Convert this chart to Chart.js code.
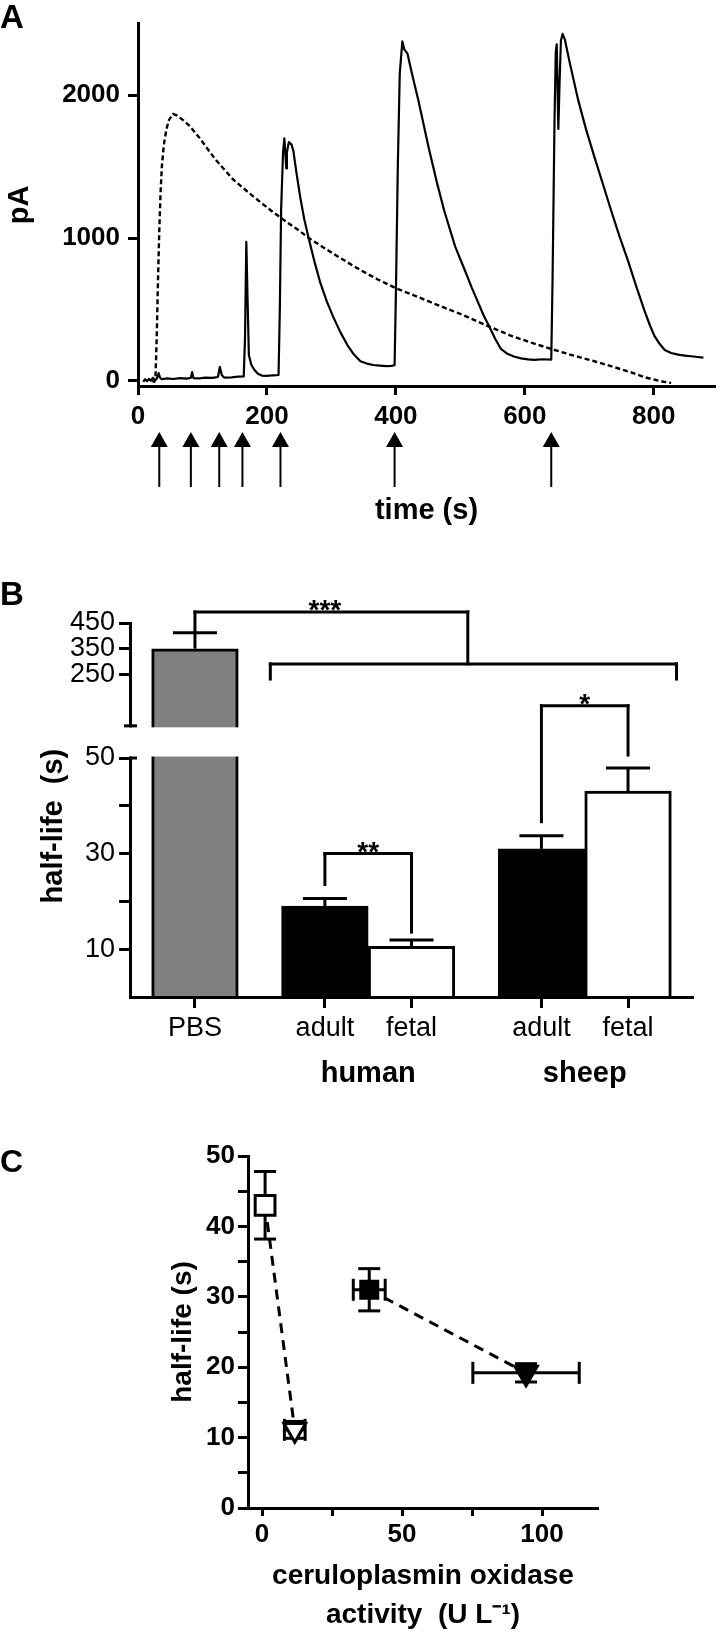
<!DOCTYPE html>
<html>
<head>
<meta charset="utf-8">
<script src="https://cdn.jsdelivr.net/npm/chart.js@4.4.1/dist/chart.umd.min.js"></script>
<style>
  html, body { margin: 0; padding: 0; background: #fff; }
  #fig { position: relative; width: 720px; height: 1634px; }
  canvas { position: absolute; left: 0; }
  #chartA { top: 0; }
  #chartB { top: 575px; }
  #chartC { top: 1100px; }
</style>
</head>
<body>
<div id="fig">
  <canvas id="chartA" width="720" height="540"></canvas>
  <canvas id="chartB" width="720" height="525"></canvas>
  <canvas id="chartC" width="720" height="534"></canvas>
</div>
<script>
// ---- panel A: current traces, [time (s), current (pA)]
const solidTrace = [
  [8, -5], [11, 12], [14, -2], [17, 15], [20, 2], [23, 22], [26, 8], [29, 15], [32, 55], [34, 25],
  [37, 12], [45, 18], [55, 14], [65, 20], [75, 17], [82, 22], [84, 62], [86, 20], [95, 18], [105, 24],
  [115, 22], [124, 28], [127, 98], [130, 40], [134, 24], [145, 26], [155, 30], [164, 32], [166, 300],
  [168, 974], [170, 560], [172, 180], [176, 110], [181, 75], [186, 50], [192, 38], [200, 36], [210, 40],
  [218, 42], [220, 500], [222, 1200], [225, 1600], [227, 1697], [229, 1560], [230, 1487], [231, 1600],
  [234, 1671], [238, 1655], [241, 1610], [246, 1450], [252, 1276], [258, 1130], [265, 993], [274, 830],
  [283, 684], [293, 555], [303, 447], [314, 340], [325, 250], [335, 185], [345, 138], [355, 122],
  [365, 112], [375, 108], [385, 104], [393, 106], [398, 110], [400, 600], [403, 1500], [406, 2150],
  [410, 2375], [413, 2320], [418, 2290], [425, 2150], [435, 1960], [451, 1630], [463, 1400], [475, 1191],
  [492, 940], [509, 752], [518, 650], [527, 555], [536, 460], [545, 380], [554, 295], [563, 224],
  [573, 190], [583, 171], [594, 158], [605, 151], [615, 148], [628, 152], [641, 150], [643, 700],
  [646, 1800], [648, 2300], [649.5, 2355], [651, 2000], [652, 1763], [654, 2100], [656, 2380],
  [658.6, 2428], [662, 2390], [670, 2220], [683, 1961], [695, 1760], [708, 1566], [721, 1380],
  [734, 1191], [747, 1010], [760, 842], [773, 660], [786, 487], [794, 390], [801, 316], [809, 260],
  [817, 217], [827, 196], [838, 184], [848, 178], [858, 173], [868, 168], [877, 164]
];
const dashedTrace = [
  [22, 0], [25, -5], [27, 8], [29, 300], [31, 700], [33, 1050], [35, 1320], [37, 1500], [40, 1650],
  [44, 1760], [48, 1825], [54, 1868], [60, 1858], [70, 1825], [80, 1785], [96, 1697], [120, 1550],
  [148, 1408], [175, 1305], [201, 1211], [225, 1130], [252, 1045], [265, 1000], [284, 945], [303, 890],
  [325, 830], [345, 776], [372, 710], [402, 645], [430, 596], [460, 540], [501, 467], [540, 390],
  [579, 316], [610, 268], [641, 224], [670, 185], [708, 138], [740, 95], [765, 60], [786, 26],
  [805, 5], [815, -5], [827, -13]
];
const injectionTimes = [33, 82, 126, 162, 221, 398, 641];
const xTicksA = [0, 200, 400, 600, 800];
const yTicksA = [0, 1000, 2000];

// ---- panel B: half-life bars
const groupsB = ['PBS', 'adult', 'fetal', 'adult', 'fetal'];
const slotsB = [0, 1.5, 2.5, 4, 5];
const halfLifeB = [350, 19.0, 10.6, 31.0, 43.1];
const semB = [62, 1.6, 1.3, 2.75, 4.8];
const speciesB = ['human', 'sheep'];
const speciesSlotsB = [2, 4.5];
const yTicksB = [10, 20, 30, 40, 50, 250, 350, 450];
const yTickLabelsB = ['10', '', '30', '', '50', '250', '350', '450'];

// ---- panel C: half-life against ceruloplasmin oxidase activity
// order: sheep fetal, human fetal, sheep adult, human adult
const oxidaseC = [1.1, 11.7, 38.3, 94.3];
const oxidaseErrC = [0, 3.7, 5.7, 19];
const halfLifeC = [43.0, 11.1, 31.0, 19.2];
const halfLifeErrC = [4.8, 1.2, 3.0, 1.3];
const xTicksC = [0, 25, 50, 75, 100];
const xTickLabelsC = ['0', '', '50', '', '100'];
const yTicksC = [0, 5, 10, 15, 20, 25, 30, 35, 40, 45, 50];

const FONT = '"Liberation Sans", Arial, Helvetica, sans-serif';
Chart.defaults.font.family = FONT;
Chart.defaults.color = '#000';
Chart.defaults.animation = false;
Chart.defaults.plugins.legend.display = false;
Chart.defaults.plugins.tooltip.enabled = false;

function blackAxis(tickLength) {
  return {
    grid: { drawOnChartArea: false, offset: false, tickLength: tickLength, tickWidth: 3, tickColor: '#000' },
    border: { display: true, width: 3, color: '#000' }
  };
}

function line(ctx, x1, y1, x2, y2) {
  ctx.beginPath();
  ctx.moveTo(x1, y1);
  ctx.lineTo(x2, y2);
  ctx.stroke();
}

// y axis of panel B is broken: 0-50 below, 50-450 above a white gap
const BREAK_AT = 50;
const LOWER_SHARE = 0.639;
const GAP_SHARE = 0.086;

class BrokenLinearScale extends Chart.LinearScale {
  getPixelForValue(value) {
    const h = this.bottom - this.top;
    const lowH = h * LOWER_SHARE, gapH = h * GAP_SHARE;
    if (value <= BREAK_AT) {
      return this.bottom - (value - this.min) / (BREAK_AT - this.min) * lowH;
    }
    return this.bottom - lowH - gapH - (value - BREAK_AT) / (this.max - BREAK_AT) * (h - lowH - gapH);
  }
  getValueForPixel(pixel) {
    const h = this.bottom - this.top;
    const lowH = h * LOWER_SHARE, gapH = h * GAP_SHARE;
    const fromBottom = this.bottom - pixel;
    if (fromBottom <= lowH) return this.min + fromBottom / lowH * (BREAK_AT - this.min);
    return BREAK_AT + (fromBottom - lowH - gapH) / (h - lowH - gapH) * (this.max - BREAK_AT);
  }
}
BrokenLinearScale.id = 'brokenLinear';
Chart.register(BrokenLinearScale);

// ---------- panel A ----------
const panelAExtras = {
  id: 'panelAExtras',
  afterDraw(chart) {
    const ctx = chart.ctx;
    const x = chart.scales.x;
    ctx.save();
    ctx.fillStyle = '#000';
    ctx.strokeStyle = '#000';
    ctx.font = 'bold 33px ' + FONT;
    ctx.textAlign = 'left';
    ctx.textBaseline = 'alphabetic';
    ctx.fillText('A', 0, 28);
    // injection arrows
    ctx.lineWidth = 2;
    injectionTimes.forEach(t => {
      const px = x.getPixelForValue(t);
      line(ctx, px, 446, px, 487);
      ctx.beginPath();
      ctx.moveTo(px, 432);
      ctx.lineTo(px - 8.5, 447);
      ctx.lineTo(px + 8.5, 447);
      ctx.closePath();
      ctx.fill();
    });
    ctx.restore();
  }
};

new Chart(document.getElementById('chartA'), {
  type: 'scatter',
  data: {
    datasets: [
      {
        data: solidTrace.map(p => ({ x: p[0], y: p[1] })),
        showLine: true, borderColor: '#000', borderWidth: 2.2, pointRadius: 0,
        borderJoinStyle: 'round', tension: 0
      },
      {
        data: dashedTrace.map(p => ({ x: p[0], y: p[1] })),
        showLine: true, borderColor: '#000', borderWidth: 2.4, borderDash: [5, 3], pointRadius: 0,
        borderJoinStyle: 'round', tension: 0
      }
    ]
  },
  options: {
    responsive: false,
    layout: { padding: { left: 0, right: 5, top: 1, bottom: 0 } },
    scales: {
      x: {
        ...blackAxis(9),
        type: 'linear', min: 0, max: 895,
        afterBuildTicks: s => { s.ticks = xTicksA.map(v => ({ value: v })); },
        afterFit: s => { s.height = 154; },
        ticks: { font: { size: 26, weight: 'bold' }, padding: 6, maxRotation: 0, autoSkip: false, callback: v => String(v) },
        title: { display: true, text: 'time (s)', font: { size: 29, weight: 'bold' }, padding: { bottom: 12 } }
      },
      y: {
        ...blackAxis(10),
        type: 'linear', min: -35, max: 2500,
        afterBuildTicks: s => { s.ticks = yTicksA.map(v => ({ value: v })); },
        afterFit: s => { s.width = 138; },
        ticks: { font: { size: 26, weight: 'bold' }, padding: 8, autoSkip: false, callback: v => String(v) },
        title: { display: true, text: 'pA', font: { size: 29, weight: 'bold' }, padding: { top: 3 } }
      }
    }
  },
  plugins: [panelAExtras]
});

// ---------- panel B ----------
const barFillB = ['#808080', '#000', '#fff', '#000', '#fff'];

function errTopB(chart, i) {
  return chart.scales.y.getPixelForValue(halfLifeB[i] + semB[i]);
}

const panelBExtras = {
  id: 'panelBExtras',
  afterDatasetsDraw(chart) {
    const ctx = chart.ctx;
    const y = chart.scales.y;
    const bars = chart.getDatasetMeta(0).data;
    const axisX = chart.chartArea.left;
    const yLowTop = y.getPixelForValue(BREAK_AT);
    const yUpBottom = y.getPixelForValue(BREAK_AT + 1e-6);
    ctx.save();
    // white gap through the axis and the PBS bar
    ctx.fillStyle = '#fff';
    const pbs = bars[0];
    ctx.fillRect(axisX - 14, yUpBottom + 1.5, pbs.x + pbs.width / 2 + 3 - (axisX - 14), yLowTop - yUpBottom - 3);
    ctx.strokeStyle = '#000';
    ctx.lineWidth = 3;
    line(ctx, axisX - 6, yUpBottom, axisX + 7, yUpBottom);
    line(ctx, axisX, yLowTop, axisX + 7, yLowTop);
    // SEM bars
    bars.forEach((bar, i) => {
      const top = y.getPixelForValue(halfLifeB[i]);
      const end = errTopB(chart, i);
      line(ctx, bar.x, top, bar.x, end);
      line(ctx, bar.x - 22, end, bar.x + 22, end);
    });
    ctx.restore();
  },
  afterDraw(chart) {
    const ctx = chart.ctx;
    const x = chart.scales.x, y = chart.scales.y;
    const px = v => x.getPixelForValue(v);
    const py = v => y.getPixelForValue(v);
    ctx.save();
    ctx.strokeStyle = '#000';
    ctx.fillStyle = '#000';
    ctx.lineWidth = 3;
    ctx.lineCap = 'square';

    // PBS vs all other groups
    const poolY = py(291);
    line(ctx, px(0.87), py(232), px(0.87), poolY);
    line(ctx, px(0.87), poolY, px(5.56), poolY);
    line(ctx, px(5.56), poolY, px(5.56), py(232));
    const topY = py(493);
    line(ctx, px(0), errTopB(chart, 0), px(0), topY);
    line(ctx, px(0), topY, px(3.15), topY);
    line(ctx, px(3.15), topY, px(3.15), poolY);

    // human adult vs fetal
    const hY = py(30);
    line(ctx, px(1.5), errTopB(chart, 1) - 14, px(1.5), hY);
    line(ctx, px(1.5), hY, px(2.5), hY);
    line(ctx, px(2.5), hY, px(2.5), errTopB(chart, 2) - 8);

    // sheep adult vs fetal
    const sY = py(128);
    line(ctx, px(4), errTopB(chart, 3) - 14, px(4), sY);
    line(ctx, px(4), sY, px(5), sY);
    line(ctx, px(5), sY, px(5), errTopB(chart, 4) - 13);

    ctx.font = 'bold 28px ' + FONT;
    ctx.textAlign = 'center';
    ctx.textBaseline = 'alphabetic';
    ctx.fillText('***', px(1.5), topY + 7);
    ctx.fillText('**', px(2), hY + 7);
    ctx.fillText('*', px(4.5), sY + 7);

    ctx.font = 'bold 29px ' + FONT;
    ctx.textBaseline = 'middle';
    speciesB.forEach((s, i) => ctx.fillText(s, px(speciesSlotsB[i]), 499));

    ctx.font = 'bold 33px ' + FONT;
    ctx.textAlign = 'left';
    ctx.textBaseline = 'alphabetic';
    ctx.fillText('B', 0, 30);
    ctx.restore();
  }
};

new Chart(document.getElementById('chartB'), {
  type: 'bar',
  data: {
    datasets: [{
      data: slotsB.map((s, i) => ({ x: s, y: halfLifeB[i] })),
      backgroundColor: barFillB,
      borderColor: '#000',
      borderWidth: 3,
      borderSkipped: 'start',
      categoryPercentage: 1,
      barPercentage: 1
    }]
  },
  options: {
    responsive: false,
    layout: { padding: { left: 0, right: 27, top: 48, bottom: 0 } },
    scales: {
      x: {
        ...blackAxis(11),
        border: { display: true, width: 3, color: '#000', z: 1 },
        type: 'linear', min: -0.75, max: 5.75, offset: false,
        afterBuildTicks: s => { s.ticks = slotsB.map(v => ({ value: v })); },
        afterFit: s => { s.height = 103; },
        ticks: {
          font: { size: 27 }, padding: 4, maxRotation: 0, autoSkip: false,
          callback: v => { const i = slotsB.indexOf(v); return i >= 0 ? groupsB[i] : ''; }
        }
      },
      y: {
        ...blackAxis(11),
        type: 'brokenLinear', min: 0, max: 450,
        afterBuildTicks: s => { s.ticks = yTicksB.map(v => ({ value: v })); },
        afterFit: s => { s.width = 130; },
        ticks: {
          font: { size: 27 }, padding: 4, autoSkip: false,
          callback: v => yTickLabelsB[yTicksB.indexOf(v)]
        },
        title: { display: true, text: 'half-life  (s)    ', font: { size: 29, weight: 'bold' }, padding: { top: 37 } }
      }
    }
  },
  plugins: [panelBExtras]
});

// ---------- panel C ----------
const panelCExtras = {
  id: 'panelCExtras',
  beforeDatasetsDraw(chart) {
    const ctx = chart.ctx;
    const x = chart.scales.x, y = chart.scales.y;
    ctx.save();
    ctx.strokeStyle = '#000';
    ctx.lineWidth = 3;
    oxidaseC.forEach((ox, i) => {
      const cx = x.getPixelForValue(ox), cy = y.getPixelForValue(halfLifeC[i]);
      if (halfLifeErrC[i] > 0) {
        const t = y.getPixelForValue(halfLifeC[i] + halfLifeErrC[i]);
        const b = y.getPixelForValue(halfLifeC[i] - halfLifeErrC[i]);
        line(ctx, cx, t, cx, b);
        line(ctx, cx - 11, t, cx + 11, t);
        line(ctx, cx - 11, b, cx + 11, b);
      }
      if (oxidaseErrC[i] > 0) {
        const l = x.getPixelForValue(ox - oxidaseErrC[i]);
        const r = x.getPixelForValue(ox + oxidaseErrC[i]);
        line(ctx, l, cy, r, cy);
        line(ctx, l, cy - 11, l, cy + 11);
        line(ctx, r, cy - 11, r, cy + 11);
      }
    });
    ctx.restore();
  },
  afterDraw(chart) {
    const ctx = chart.ctx;
    ctx.save();
    ctx.fillStyle = '#000';
    ctx.font = 'bold 32px ' + FONT;
    ctx.textAlign = 'left';
    ctx.textBaseline = 'alphabetic';
    ctx.fillText('C', 0, 72);
    ctx.restore();
  }
};

const pointsC = oxidaseC.map((ox, i) => ({ x: ox, y: halfLifeC[i] }));

new Chart(document.getElementById('chartC'), {
  type: 'scatter',
  data: {
    datasets: [
      {
        data: pointsC,
        pointStyle: ['rect', 'triangle', 'rect', 'triangle'],
        pointRotation: [0, 180, 0, 180],
        pointRadius: [14, 12.5, 12, 13],
        pointBackgroundColor: ['#fff', '#fff', '#000', '#000'],
        pointBorderColor: '#000',
        pointBorderWidth: 3
      },
      {
        data: [pointsC[0], pointsC[1]],
        showLine: true, borderColor: '#000', borderWidth: 3, borderDash: [10, 7], pointRadius: 0
      },
      {
        data: [pointsC[2], pointsC[3]],
        showLine: true, borderColor: '#000', borderWidth: 3, borderDash: [10, 7], pointRadius: 0
      }
    ]
  },
  options: {
    responsive: false,
    layout: { padding: { left: 160, right: 122, top: 56, bottom: 0 } },
    scales: {
      x: {
        ...blackAxis(8),
        type: 'linear', min: -5, max: 120,
        afterBuildTicks: s => { s.ticks = xTicksC.map(v => ({ value: v })); },
        afterFit: s => { s.height = 126; },
        ticks: {
          font: { size: 26, weight: 'bold' }, padding: 3, maxRotation: 0, autoSkip: false,
          callback: v => xTickLabelsC[xTicksC.indexOf(v)]
        },
        title: {
          display: true,
          text: ['ceruloplasmin oxidase', 'activity  (U L\u207B\u00B9)'],
          font: { size: 28, weight: 'bold', lineHeight: 1.37 },
          padding: { bottom: 0 }
        }
      },
      y: {
        ...blackAxis(10),
        type: 'linear', min: 0, max: 50,
        afterBuildTicks: s => { s.ticks = yTicksC.map(v => ({ value: v })); },
        afterFit: s => { s.width = 88; },
        ticks: {
          font: { size: 26, weight: 'bold' }, padding: 3, autoSkip: false,
          callback: v => (v % 10 === 0 ? String(v) : '')
        },
        title: { display: true, text: 'half-life (s)', font: { size: 28, weight: 'bold' }, padding: { top: 6 } }
      }
    }
  },
  plugins: [panelCExtras]
});
</script>
</body>
</html>
